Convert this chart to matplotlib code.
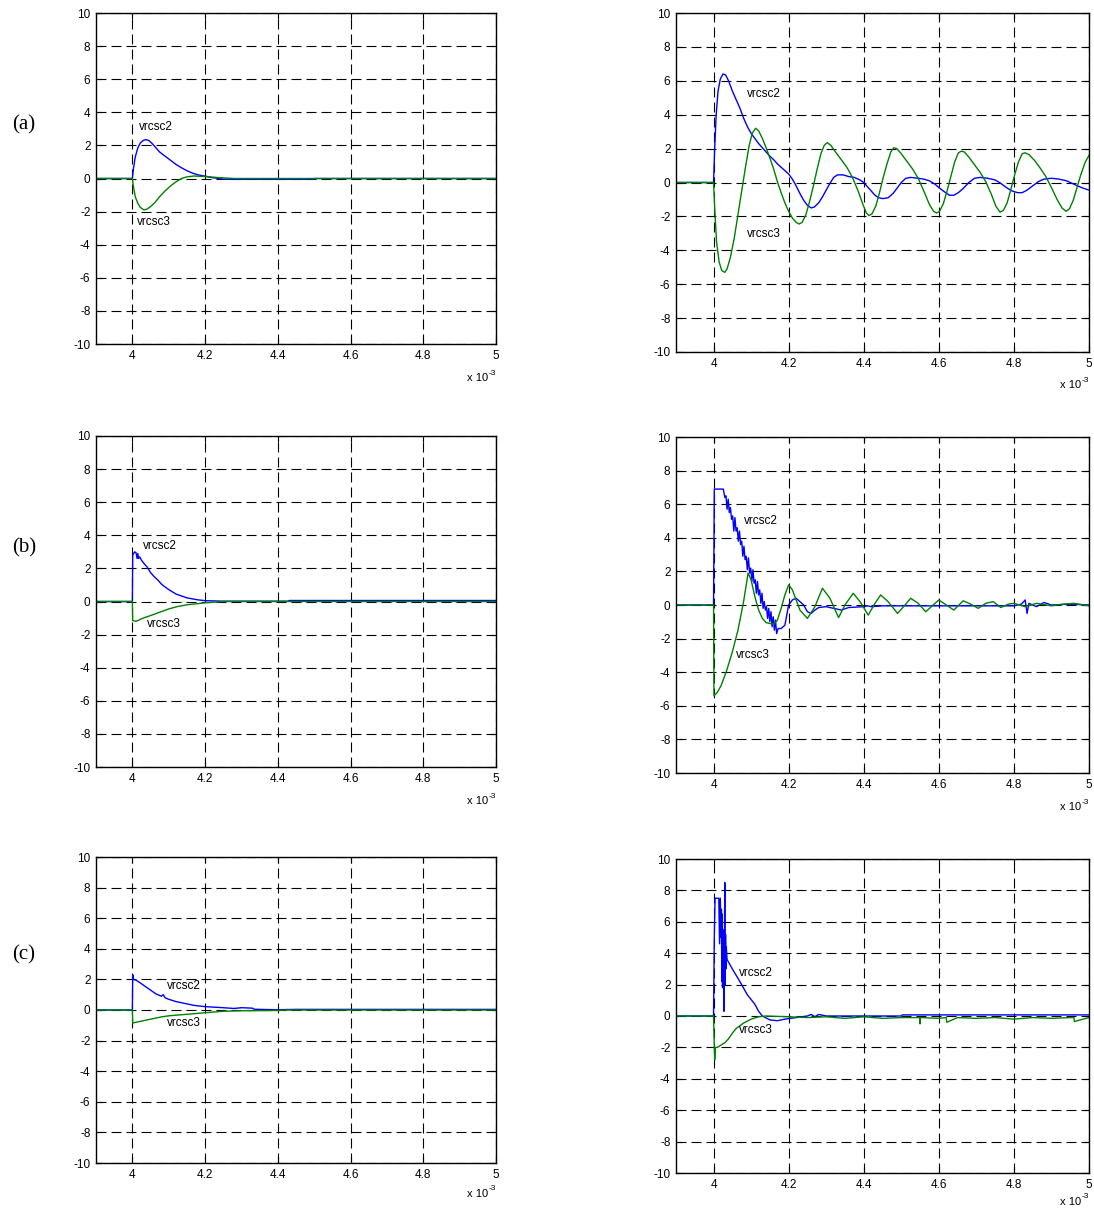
import matplotlib
matplotlib.use("Agg")
import matplotlib.pyplot as plt

plt.rcParams['font.family'] = ['Liberation Sans', 'DejaVu Sans']
plt.rcParams['axes.unicode_minus'] = False

BLUE = '#0000ff'
GREEN = '#008000'

# time axis in units of 1e-3 s
# ---- (a) left
aL_t2 = [3.9, 4.0, 4.003, 4.008, 4.015, 4.022, 4.03, 4.037, 4.045, 4.055, 4.065, 4.075, 4.09, 4.105, 4.12,
         4.135, 4.15, 4.165, 4.18, 4.2, 4.22, 4.25, 4.26, 4.497, 4.5, 5.0]
aL_v2 = [0, 0, 0.6, 1.3, 1.85, 2.15, 2.3, 2.35, 2.3, 2.1, 1.85, 1.6, 1.35, 1.1, 0.85,
         0.65, 0.47, 0.33, 0.22, 0.14, 0.05, -0.03, -0.05, -0.05, 0, 0]
aL_t3 = [3.9, 4.0, 4.003, 4.008, 4.015, 4.022, 4.032, 4.04, 4.05, 4.062, 4.075, 4.09, 4.105, 4.12, 4.135,
         4.15, 4.17, 4.2, 4.24, 4.28, 5.0]
aL_v3 = [0, 0, -0.5, -1.1, -1.5, -1.75, -1.9, -1.85, -1.7, -1.45, -1.1, -0.75, -0.45, -0.2, 0.0,
         0.1, 0.15, 0.12, 0.05, 0, 0]

# ---- (a) right
aR_t2 = [3.9, 4.0, 4.003, 4.007, 4.012, 4.018, 4.025, 4.032, 4.04, 4.05, 4.06, 4.07, 4.08, 4.09, 4.1, 4.11,
         4.12, 4.13, 4.14, 4.15, 4.16, 4.17, 4.18, 4.19, 4.2, 4.21, 4.22, 4.23, 4.24, 4.25, 4.26, 4.268,
         4.28, 4.29, 4.3, 4.31, 4.32, 4.33, 4.345, 4.36, 4.375, 4.39, 4.4, 4.41, 4.42, 4.43, 4.44, 4.452,
         4.465, 4.478, 4.49, 4.5, 4.512, 4.525, 4.545, 4.56, 4.575, 4.59, 4.6, 4.615, 4.628, 4.64, 4.652,
         4.665, 4.68, 4.695, 4.71, 4.73, 4.75, 4.765, 4.78, 4.795, 4.81, 4.822, 4.835, 4.85, 4.865, 4.88,
         4.9, 4.92, 4.94, 4.96, 4.98, 5.0]
aR_v2 = [0, 0, 2.0, 4.0, 5.4, 6.1, 6.4, 6.35, 6.0, 5.4, 4.9, 4.4, 3.8, 3.3, 2.9, 2.6,
         2.3, 2.05, 1.8, 1.55, 1.35, 1.1, 0.9, 0.7, 0.5, 0.2, -0.2, -0.65, -1.05, -1.35, -1.5, -1.45,
         -1.2, -0.85, -0.45, -0.05, 0.3, 0.45, 0.45, 0.35, 0.3, 0.15, 0.0, -0.25, -0.5, -0.75, -0.9, -0.95,
         -0.9, -0.65, -0.3, 0.0, 0.25, 0.3, 0.25, 0.2, 0.1, -0.1, -0.3, -0.55, -0.75, -0.75, -0.6,
         -0.35, 0.0, 0.25, 0.3, 0.25, 0.15, -0.05, -0.3, -0.5, -0.6, -0.6, -0.45, -0.2, 0.05, 0.2,
         0.25, 0.2, 0.1, -0.1, -0.3, -0.45]
aR_t3 = [3.9, 4.0, 4.003, 4.008, 4.015, 4.022, 4.03, 4.036, 4.045, 4.055, 4.065, 4.075, 4.085, 4.095, 4.103,
         4.112, 4.12, 4.13, 4.14, 4.15, 4.16, 4.17, 4.18, 4.19, 4.2, 4.21, 4.22, 4.228, 4.236, 4.246,
         4.256, 4.266, 4.276, 4.286, 4.295, 4.303, 4.312, 4.325, 4.34, 4.355, 4.37, 4.385, 4.398, 4.407,
         4.414, 4.422, 4.432, 4.442, 4.452, 4.462, 4.472, 4.48, 4.488, 4.5, 4.515, 4.53, 4.545, 4.56,
         4.575, 4.586, 4.594, 4.602, 4.612, 4.622, 4.632, 4.642, 4.652, 4.66, 4.668, 4.68, 4.695, 4.71,
         4.725, 4.74, 4.752, 4.763, 4.772, 4.782, 4.792, 4.802, 4.812, 4.822, 4.83, 4.84, 4.855, 4.87,
         4.885, 4.9, 4.915, 4.928, 4.939, 4.948, 4.958, 4.968, 4.978, 4.99, 5.0]
aR_v3 = [0, 0, -1.5, -3.5, -4.7, -5.2, -5.3, -5.1, -4.4, -3.3, -1.9, -0.5, 0.9, 2.2, 2.9,
         3.2, 3.05, 2.6, 2.05, 1.45, 0.8, 0.05, -0.6, -1.2, -1.7, -2.1, -2.35, -2.45, -2.35, -1.9,
         -1.1, -0.2, 0.8, 1.7, 2.2, 2.35, 2.2, 1.8, 1.35, 0.9, 0.3, -0.5, -1.3, -1.8,
         -1.95, -1.85, -1.4, -0.6, 0.3, 1.1, 1.8, 2.05, 2.0, 1.7, 1.25, 0.8, 0.25, -0.5,
         -1.3, -1.7, -1.8, -1.7, -1.25, -0.5, 0.35, 1.2, 1.75, 1.85, 1.8, 1.5, 1.05, 0.6,
         0.05, -0.7, -1.4, -1.75, -1.65, -1.2, -0.4, 0.45, 1.2, 1.7, 1.75, 1.65, 1.3, 0.85,
         0.35, -0.3, -1.0, -1.5, -1.7, -1.55, -1.05, -0.3, 0.45, 1.2, 1.6]

# ---- (b) left
bL_t2 = [3.9, 4.0, 4.001, 4.006, 4.01, 4.013, 4.015, 4.017, 4.02, 4.025, 4.03, 4.04, 4.05, 4.06, 4.07, 4.08, 4.09,
         4.1, 4.12, 4.15, 4.18, 4.2, 4.25, 4.43, 4.431, 5.0]
bL_v2 = [0, 0, 2.8, 3.0, 2.95, 2.6, 2.9, 2.6, 2.7, 2.5, 2.35, 2.1, 1.75, 1.5, 1.3, 1.05, 0.88,
         0.72, 0.45, 0.22, 0.1, 0.05, 0.02, 0.02, 0.06, 0.06]
bL_t3 = [3.9, 4.0, 4.001, 4.01, 4.03, 4.05, 4.075, 4.1, 4.125, 4.15, 4.2, 4.25, 5.0]
bL_v3 = [0, 0, -1.15, -1.2, -1.0, -0.85, -0.65, -0.45, -0.3, -0.2, -0.08, 0, 0]

# ---- (b) right
bR_t2 = [3.9, 4.0, 4.002, 4.026, 4.03, 4.033, 4.036, 4.039, 4.042, 4.045, 4.048, 4.051, 4.054, 4.057, 4.06, 4.063,
         4.066, 4.069, 4.072, 4.075, 4.078, 4.081, 4.084, 4.087, 4.09, 4.093, 4.096, 4.099, 4.102, 4.105, 4.108,
         4.111, 4.114, 4.117, 4.12, 4.123, 4.126, 4.129, 4.132, 4.135, 4.138, 4.141, 4.144, 4.147, 4.15, 4.153,
         4.156, 4.159, 4.162, 4.165, 4.168, 4.172, 4.18, 4.19, 4.2, 4.21, 4.22, 4.23, 4.24, 4.25, 4.26, 4.27,
         4.28, 4.3, 4.32, 4.34, 4.36, 4.4, 4.41, 4.42, 4.45, 4.5, 4.55, 4.6, 4.7, 4.8, 4.82, 4.83, 4.835, 4.84,
         4.86, 4.88, 4.9, 4.95, 5.0]
bR_v2 = [0, 0, 6.9, 6.9, 6.4, 6.5, 5.7, 6.3, 5.5, 5.8, 5.1, 5.3, 4.4, 5.2, 4.4, 4.6,
         3.8, 4.4, 3.6, 3.8, 2.9, 3.5, 2.7, 2.9, 2.1, 2.8, 1.9, 2.2, 1.4, 2.1, 1.3,
         1.5, 0.7, 1.4, 0.6, 0.9, 0.1, 0.7, -0.2, 0.2, -0.3, -0.1, -0.8, -0.2, -1.0, -0.4,
         -1.3, -0.7, -1.5, -0.9, -1.7, -1.4, -1.4, -1.2, 0.0, 0.3, 0.4, 0.2, 0.0, -0.4, -0.5, -0.3,
         -0.15, -0.1, -0.2, -0.3, -0.15, -0.1, -0.05, -0.1, -0.05, -0.05, -0.05, -0.05, -0.05, -0.05, 0.05, 0.3, -0.5, 0.1,
         -0.1, 0.15, 0.0, 0.05, 0.0]
bR_t3 = [3.9, 4.0, 4.001, 4.01, 4.02, 4.035, 4.05, 4.065, 4.08, 4.092, 4.1, 4.11, 4.12, 4.13, 4.14, 4.15, 4.16,
         4.17, 4.18, 4.19, 4.2, 4.21, 4.23, 4.25, 4.27, 4.29, 4.31, 4.333, 4.35, 4.372, 4.39, 4.412, 4.43,
         4.445, 4.465, 4.49, 4.51, 4.525, 4.545, 4.565, 4.585, 4.6, 4.62, 4.64, 4.665, 4.685, 4.705, 4.725,
         4.745, 4.765, 4.785, 4.8, 4.83, 4.86, 4.9, 4.93, 4.96, 5.0]
bR_v3 = [0, 0, -5.4, -5.2, -4.8, -3.9, -2.8, -1.5, 0.2, 1.9, 1.5, 0.5, -0.3, -0.8, -1.05, -1.1, -1.15,
         -0.9, -0.2, 0.6, 1.2, 0.9, -0.3, -0.8, -0.1, 1.0, 0.4, -0.75, 0.0, 0.7, 0.2, -0.6, 0.1,
         0.6, 0.2, -0.5, 0.0, 0.4, 0.1, -0.4, 0.0, 0.3, 0.0, -0.3, 0.25, 0.05, -0.2, 0.1,
         0.2, -0.15, 0.05, 0.1, -0.1, 0.1, -0.05, 0.05, 0.1, -0.05]

# ---- (c) left
cL_t2 = [3.9, 4.0, 4.001, 4.003, 4.01, 4.02, 4.035, 4.05, 4.065, 4.08, 4.085, 4.09, 4.1, 4.12, 4.15, 4.17, 4.2,
         4.25, 4.28, 4.3, 4.33, 4.335, 4.37, 4.4, 4.45, 5.0]
cL_v2 = [0, 0, 2.3, 2.0, 1.95, 1.8, 1.55, 1.3, 1.05, 0.9, 1.0, 0.8, 0.7, 0.55, 0.4, 0.3, 0.22,
         0.15, 0.1, 0.15, 0.12, 0.05, 0.03, 0.02, 0.04, 0.04]
cL_t3 = [3.9, 4.0, 4.001, 4.02, 4.05, 4.08, 4.1, 4.15, 4.2, 4.25, 4.3, 4.4, 4.42, 5.0]
cL_v3 = [0, 0, -0.85, -0.75, -0.6, -0.45, -0.38, -0.28, -0.18, -0.08, -0.05, -0.03, 0, 0]

# ---- (c) right
cR_t2 = [3.9, 4.0, 4.002, 4.004, 4.014, 4.016, 4.018, 4.02, 4.021, 4.022, 4.023, 4.024, 4.025, 4.026, 4.027,
         4.028, 4.029, 4.03, 4.031, 4.032, 4.033, 4.034, 4.036, 4.05, 4.07, 4.09, 4.1, 4.11, 4.12, 4.13,
         4.15, 4.17, 4.19, 4.22, 4.25, 4.26, 4.27, 4.28, 4.3, 4.5, 4.502, 5.0]
cR_v2 = [0, 0, 5.0, 7.5, 7.5, 4.6, 7.5, 5.0, 6.8, 2.2, 6.5, 1.8, 5.5, 3.0, 5.3,
         0.3, 4.5, 8.5, 2.0, 5.2, 3.0, 4.4, 3.6, 3.0, 2.2, 1.35, 1.05, 0.75, 0.3, 0.0,
         -0.25, -0.3, -0.2, -0.1, 0.0, 0.1, -0.05, 0.1, 0.0, 0.0, 0.07, 0.07]
cR_t3 = [3.9, 4.0, 4.001, 4.003, 4.005, 4.01, 4.02, 4.03, 4.04, 4.05, 4.06, 4.08, 4.1, 4.12, 4.14, 4.2, 4.25,
         4.3, 4.35, 4.4, 4.45, 4.5, 4.549, 4.55, 4.551, 4.6, 4.62, 4.621, 4.65, 4.7, 4.75, 4.8, 4.85, 4.9,
         4.95, 4.96, 4.961, 5.0]
cR_v3 = [0, 0, -1.0, -2.8, -2.0, -2.0, -1.85, -1.7, -1.45, -1.1, -0.8, -0.45, -0.2, -0.05, 0.0, -0.05, -0.1,
         -0.05, -0.15, -0.05, -0.15, -0.1, -0.1, -0.5, -0.1, -0.15, -0.1, -0.4, -0.1, -0.15, -0.1, -0.2, -0.1, -0.15,
         -0.1, -0.1, -0.35, -0.1]

x_ticks = [4, 4.2, 4.4, 4.6, 4.8, 5]
x_labels = ['4', '4.2', '4.4', '4.6', '4.8', '5']
y_ticks = [-10, -8, -6, -4, -2, 0, 2, 4, 6, 8, 10]
row_labels = ['(a)', '(b)', '(c)']

W, H = 1094, 1211
fig = plt.figure(figsize=(W / 100, H / 100), dpi=100)


def add_panel(px, data, lab2, lab3, exp_dy):
    # px = (left, top, right, bottom) in pixels
    l, t, r, b = px
    ax = fig.add_axes([l / W, (H - b) / H, (r - l) / W, (b - t) / H])
    t2, v2, t3, v3 = data
    ax.plot(t2, v2, color=BLUE, lw=1.0)
    ax.plot(t3, v3, color=GREEN, lw=1.0)
    ax.set_xlim(3.9, 5.0)
    ax.set_ylim(-10, 10)
    ax.set_xticks(x_ticks)
    ax.set_xticklabels(x_labels)
    ax.set_yticks(y_ticks)
    ax.tick_params(direction='in', top=True, right=True, length=4, width=0.8,
                   labelsize=8.5, pad=4)
    ax.grid(True, color='black', linestyle=(0, (9, 4.5)), linewidth=0.8)
    for s in ax.spines.values():
        s.set_linewidth(1.0)
    ax.text(lab2[0], lab2[1], 'vrcsc2', fontsize=8.5, va='center')
    ax.text(lab3[0], lab3[1], 'vrcsc3', fontsize=8.5, va='center')
    # MATLAB style exponent label
    ax.annotate('x 10', xy=(1, 0), xycoords='axes fraction',
                xytext=(-8, -exp_dy), textcoords='offset pixels',
                ha='right', va='center', fontsize=8)
    ax.annotate('-3', xy=(1, 0), xycoords='axes fraction',
                xytext=(0, -exp_dy + 5), textcoords='offset pixels',
                ha='right', va='center', fontsize=6)
    return ax


add_panel((96, 13, 496, 344), (aL_t2, aL_v2, aL_t3, aL_v3), (4.018, 3.1), (4.013, -2.6), 34)
add_panel((676, 13, 1089, 352), (aR_t2, aR_v2, aR_t3, aR_v3), (4.09, 5.25), (4.09, -3.05), 33)
add_panel((96, 436, 496, 767), (bL_t2, bL_v2, bL_t3, bL_v3), (4.028, 3.35), (4.04, -1.35), 34)
add_panel((676, 437, 1089, 773), (bR_t2, bR_v2, bR_t3, bR_v3), (4.081, 5.0), (4.06, -3.0), 34)
add_panel((96, 857, 496, 1163), (cL_t2, cL_v2, cL_t3, cL_v3), (4.095, 1.6), (4.094, -0.85), 31)
add_panel((676, 859, 1089, 1173), (cR_t2, cR_v2, cR_t3, cR_v3), (4.067, 2.75), (4.067, -0.88), 29)

for lab, yc in zip(row_labels, [125, 548, 955]):
    fig.text(24 / W, 1 - yc / H, lab, family=['Liberation Serif', 'DejaVu Serif'],
             fontsize=15, ha='center', va='center')

fig.savefig('out.png', dpi=100)
